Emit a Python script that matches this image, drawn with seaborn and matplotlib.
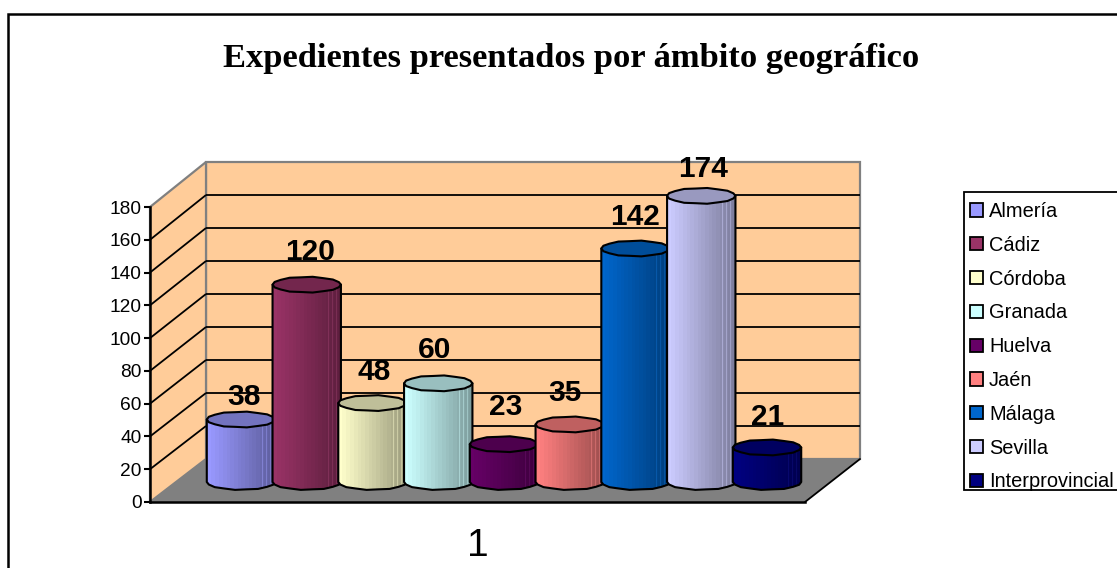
import numpy as np
import seaborn as sns
import matplotlib
matplotlib.use("Agg")
import matplotlib.pyplot as plt
from matplotlib.colors import to_rgb
from matplotlib.patches import Patch, Polygon, Rectangle

categories = ["Almería", "Cádiz", "Córdoba", "Granada", "Huelva", "Jaén", "Málaga", "Sevilla", "Interprovincial"]
values = [38, 120, 48, 60, 23, 35, 142, 174, 21]
y_ticks = [0, 20, 40, 60, 80, 100, 120, 140, 160, 180]
colors = ["#9999FF", "#993366", "#FFFFCC", "#CCFFFF", "#660066", "#FF8080", "#0066CC", "#CCCCFF", "#000080"]

# small nudges of the value labels, in pixels
label_dx = [3, 3, 2, -4, 2, -5, 0, 2, 1]
label_dy = [23, 33, 31, 33, 37, 31, 31, 27, 30]

W, H = 1117, 568

sns.set_theme(style="white")
plt.rcParams["font.family"] = ["Liberation Sans", "DejaVu Sans"]

fig = plt.figure(figsize=(W / 100, H / 100), dpi=100, facecolor="white")


def px_axes(x0, y0, x1, y1):
    return fig.add_axes([x0 / W, 1 - y1 / H, (x1 - x0) / W, (y1 - y0) / H])


# chart border, runs off the right and bottom of the picture
fig.add_artist(Rectangle((8 / W, -0.1), 1.1, 1.1 - 14 / H, transform=fig.transFigure,
                         fill=False, edgecolor="black", linewidth=1.8))

fig.text(571 / W, 1 - 58 / H, "Expedientes presentados por ámbito geográfico",
         family="Liberation Serif", weight="bold", fontsize=24.8, ha="center", va="center", color="black")

# walls and floor, in pixel coordinates
bg = px_axes(0, 0, W, H)
bg.set_xlim(0, W)
bg.set_ylim(H, 0)
bg.axis("off")
bg.patch.set_alpha(0)

wall = "#FFCC99"
edge = "#808080"
bg.add_patch(Polygon([(206, 459), (860, 459), (860, 162), (206, 162)], facecolor=wall, edgecolor=edge, lw=1.6))
bg.add_patch(Polygon([(150, 502), (206, 459), (206, 162), (150, 207)], facecolor=wall, edgecolor=edge, lw=1.6))
for t in y_ticks[1:-1]:
    back = 459 - t * 297 / 180
    front = 502 - t * 295 / 180
    bg.plot([150, 206], [front, back], color="black", lw=1.3, solid_capstyle="butt")
    bg.plot([206, 860], [back, back], color="black", lw=1.3, solid_capstyle="butt")
bg.add_patch(Polygon([(150, 502), (206, 459), (860, 459), (805, 502)], facecolor=edge, edgecolor="none"))
bg.plot([805, 860], [502, 459], color="black", lw=1.3)

# value axis on the front edge
ax = px_axes(150.5, 207, 805, 502)
ax.patch.set_alpha(0)
ax.set_xlim(0, 1)
ax.set_ylim(0, 180)
ax.set_yticks(y_ticks)
ax.set_xticks([0.5])
ax.set_xticklabels(["1"], fontsize=28)
ax.tick_params(axis="x", length=0, pad=19, colors="black")
ax.tick_params(axis="y", length=4.5, width=1.5, pad=2, labelsize=13.8, colors="black", left=True)
for side in ["top", "right"]:
    ax.spines[side].set_visible(False)
for side in ["left", "bottom"]:
    ax.spines[side].set_color("black")
    ax.spines[side].set_linewidth(1.8)

# cylinders, base centre line 482 px, same value scale as the axis
ax_bars = px_axes(208.1, 186, 799.9, 482)
ax_bars.patch.set_alpha(0)
sns.barplot(x=categories, y=values, hue=categories, palette=colors, saturation=1,
            width=1.04, legend=False, ax=ax_bars, linewidth=0)
ax_bars.set_xlim(-0.5, 8.5)
ax_bars.set_ylim(0, 180)
ax_bars.axis("off")

ry = 8 / (296 / 180)
n_side = 10


def wobble(k):
    # the rim is a rough polygon, every other corner sits a bit further out
    return 1.0 if k % 2 == 0 else 0.93


for i, (bar, c, v) in enumerate(zip(ax_bars.patches, colors, values)):
    x0, w = bar.get_x(), bar.get_width()
    cx, rx = x0 + w / 2, w / 2
    bar.set_zorder(10 * i + 1)
    rgb = np.array(to_rgb(c))

    # stepped shading, dark to the right, with thin pale strips near the right edge
    t = np.linspace(0, 1, 70)
    stepped = np.floor(t * 18) / 18
    shade = 1 - 0.4 * stepped
    col = np.outer(shade, rgb)
    strips = (t > 0.78) & (t < 0.97) & (np.arange(70) % 4 == 0)
    col[strips] = np.clip(col[strips] * 1.15 + 0.03, 0, 1)
    im = ax_bars.imshow(col[np.newaxis, :, :], extent=(x0, x0 + w, -ry * 1.1, v), aspect="auto",
                        interpolation="nearest", origin="lower", zorder=10 * i + 2)

    low = np.linspace(np.pi, 2 * np.pi, n_side)
    body = [(cx - rx, v)]
    body += [(cx + rx * np.cos(a), ry * np.sin(a) * wobble(k)) for k, a in enumerate(low)]
    body += [(cx + rx, v)]
    outline = Polygon(body, closed=True, facecolor="none", edgecolor="black", lw=1.5,
                      joinstyle="round", zorder=10 * i + 3, clip_on=False)
    ax_bars.add_patch(outline)
    im.set_clip_path(outline)
    im.set_clip_box(fig.bbox)

    around = np.linspace(0, 2 * np.pi, 2 * n_side - 1)[:-1]
    top = [(cx + rx * np.cos(a), v + ry * np.sin(a) * wobble(k)) for k, a in enumerate(around)]
    ax_bars.add_patch(Polygon(top, closed=True, facecolor=rgb * 0.75, edgecolor="black", lw=1.5,
                              joinstyle="round", zorder=10 * i + 4, clip_on=False))

ax_bars.set_xlim(-0.5, 8.5)
ax_bars.set_ylim(0, 180)

for i, v in enumerate(values):
    ax_bars.annotate(str(v), xy=(i, v), xytext=(label_dx[i], label_dy[i]), textcoords="offset pixels",
                     ha="center", va="center", fontsize=21.5, fontweight="bold", color="black",
                     zorder=500, annotation_clip=False)

# legend frame runs off the right edge
fig.add_artist(Rectangle((964 / W, 1 - 490 / H), 200 / W, 298 / H, transform=fig.transFigure,
                         facecolor="white", edgecolor="black", linewidth=1.3))
handles = [Patch(facecolor=c, edgecolor="black", linewidth=1.3) for c in colors]
leg = fig.legend(handles, categories, loc="upper left", bbox_to_anchor=(964 / W, 1 - 196 / H),
                 fontsize=14.4, frameon=False, borderaxespad=0, borderpad=0.3,
                 handlelength=0.65, handleheight=0.65, handletextpad=0.3, labelspacing=0.74,
                 labelcolor="black")

fig.savefig("out.png", dpi=100)
